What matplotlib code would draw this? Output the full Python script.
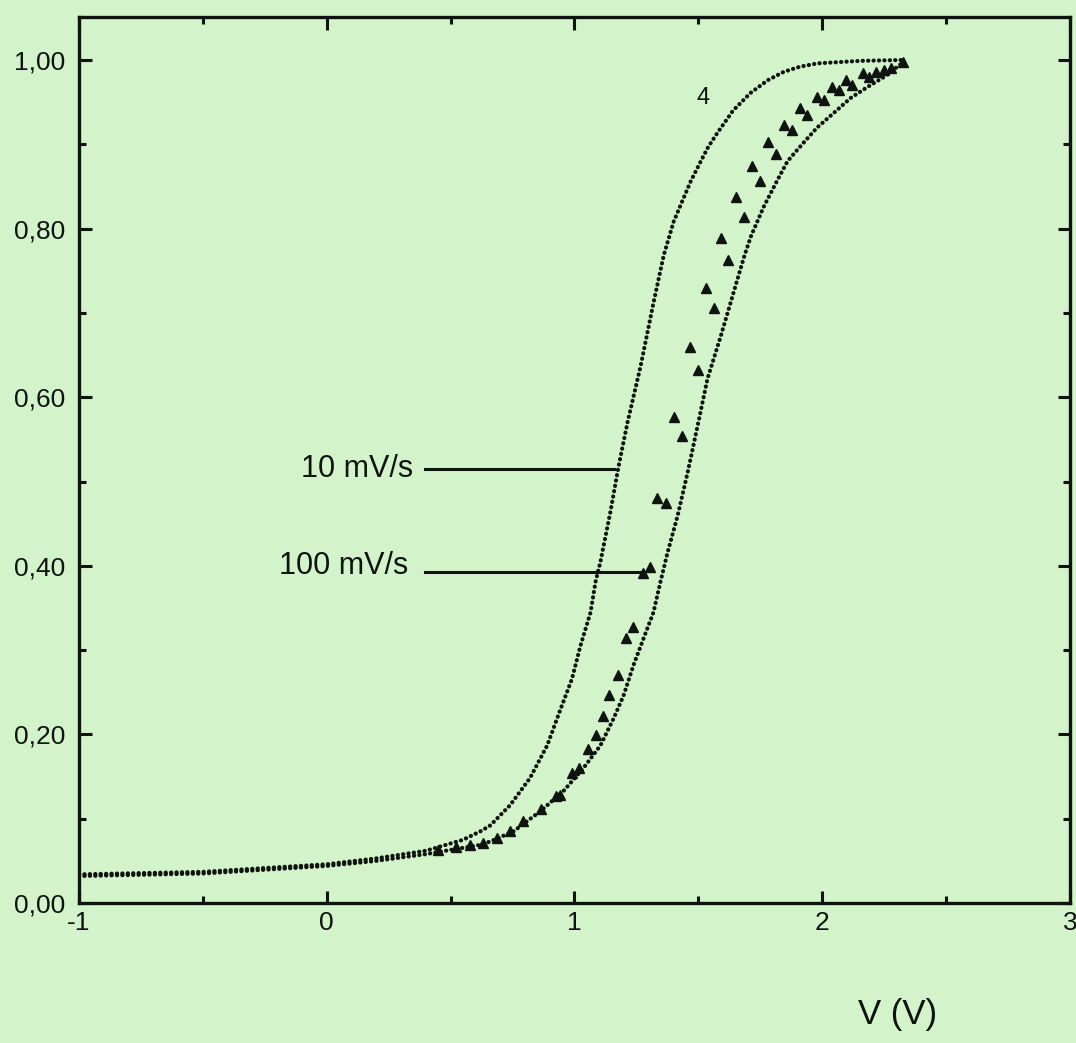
import matplotlib
matplotlib.use('Agg')
import matplotlib.pyplot as plt
from matplotlib.ticker import MultipleLocator

plt.rcParams['font.family'] = ['Liberation Sans', 'DejaVu Sans']

# 10 mV/s branch (left curve)
v_10 = [-1.0, -0.5, 0.0, 0.2, 0.4, 0.55, 0.62, 0.66, 0.74, 0.82, 0.89, 0.94, 0.99,
        1.024, 1.065, 1.085, 1.105, 1.145, 1.178, 1.214, 1.267, 1.319, 1.36, 1.40,
        1.44, 1.469, 1.51, 1.54, 1.578, 1.64, 1.711, 1.78, 1.845, 1.91, 1.98, 2.155, 2.33]
i_10 = [0.034, 0.037, 0.046, 0.053, 0.062, 0.075, 0.085, 0.092, 0.116, 0.148, 0.187,
        0.227, 0.266, 0.305, 0.345, 0.381, 0.405, 0.464, 0.518, 0.570, 0.637, 0.712,
        0.768, 0.808, 0.836, 0.856, 0.880, 0.897, 0.914, 0.940, 0.961, 0.976, 0.986,
        0.992, 0.996, 0.999, 1.0]

# right curve
v_r = [-1.0, -0.5, 0.0, 0.2, 0.4, 0.62, 0.66, 0.754, 0.863, 0.956, 1.036, 1.105, 1.158,
       1.198, 1.238, 1.279, 1.319, 1.347, 1.376, 1.416, 1.457, 1.497, 1.537, 1.59, 1.63,
       1.683, 1.711, 1.764, 1.82, 1.86, 1.925, 1.98, 2.046, 2.115, 2.183, 2.25, 2.33]
i_r = [0.032, 0.035, 0.044, 0.050, 0.058, 0.069, 0.073, 0.085, 0.109, 0.133, 0.160,
       0.187, 0.219, 0.246, 0.282, 0.314, 0.345, 0.381, 0.416, 0.459, 0.511, 0.566,
       0.622, 0.672, 0.712, 0.765, 0.790, 0.826, 0.858, 0.880, 0.902, 0.920, 0.937,
       0.955, 0.968, 0.980, 0.998]

# 100 mV/s triangles
v_100 = [0.45, 0.52, 0.58, 0.632, 0.689, 0.741, 0.794, 0.863, 0.925, 0.943, 0.988, 1.020,
         1.053, 1.085, 1.117, 1.141, 1.174, 1.206, 1.238, 1.275, 1.303, 1.335, 1.368,
         1.40, 1.432, 1.465, 1.497, 1.53, 1.562, 1.59, 1.618, 1.65, 1.683, 1.715, 1.747,
         1.78, 1.812, 1.845, 1.877, 1.909, 1.94, 1.978, 2.006, 2.04, 2.067, 2.095, 2.12,
         2.163, 2.188, 2.216, 2.25, 2.277, 2.325]
i_100 = [0.063, 0.066, 0.069, 0.071, 0.077, 0.086, 0.097, 0.112, 0.127, 0.128, 0.154,
         0.160, 0.183, 0.199, 0.222, 0.247, 0.270, 0.314, 0.328, 0.391, 0.399, 0.480,
         0.474, 0.576, 0.554, 0.660, 0.632, 0.73, 0.706, 0.789, 0.763, 0.837, 0.814,
         0.874, 0.856, 0.903, 0.888, 0.923, 0.917, 0.943, 0.935, 0.956, 0.953, 0.968,
         0.964, 0.976, 0.97, 0.985, 0.98, 0.986, 0.988, 0.99, 0.998]

y_ticks = [0.0, 0.2, 0.4, 0.6, 0.8, 1.0]
y_labels = ['0,00', '0,20', '0,40', '0,60', '0,80', '1,00']
x_ticks = [-1, 0, 1, 2, 3]
x_labels = ['-1', '0', '1', '2', '3']

bg = '#d3f3cb'
ink = '#101410'

fig = plt.figure(figsize=(10.76, 10.43), dpi=100, facecolor=bg)
ax = fig.add_axes([0.0734, 0.1342, 0.921, 0.8495], facecolor=bg)

# curves, drawn as dense dots
ax.plot(v_10, i_10, color=ink, lw=3.0, ls=(0, (0.05, 1.25)), dash_capstyle='round')
ax.plot(v_r, i_r, color=ink, lw=3.0, ls=(0, (0.05, 1.25)), dash_capstyle='round')
ax.plot(v_100, i_100, ls='none', marker='^', ms=6.5, color=ink)

# annotations
ax.plot([0.398, 1.158], [0.515, 0.515], color=ink, lw=2.2)
ax.plot([0.398, 1.28], [0.393, 0.393], color=ink, lw=2.2)
ax.text(0.35, 0.515, '10 mV/s', ha='right', va='center', fontsize=22, color=ink)
ax.text(0.33, 0.40, '100 mV/s', ha='right', va='center', fontsize=22, color=ink)
ax.text(1.52, 0.955, '4', ha='center', va='center', fontsize=17, color=ink)

ax.set_xlim(-1, 3)
ax.set_ylim(0, 1.051)

ax.set_xticks(x_ticks)
ax.set_xticklabels(x_labels)
ax.set_yticks(y_ticks)
ax.set_yticklabels(y_labels)
ax.xaxis.set_minor_locator(MultipleLocator(0.5))
ax.yaxis.set_minor_locator(MultipleLocator(0.1))

ax.tick_params(which='both', direction='in', top=True, right=True, width=2.2,
               colors=ink, labelsize=19)
ax.tick_params(which='major', length=9)
ax.tick_params(which='minor', length=5)
ax.tick_params(axis='x', which='major', pad=6)
ax.tick_params(axis='y', which='major', pad=10)

for s in ax.spines.values():
    s.set_linewidth(2.4)
    s.set_color(ink)

fig.text(0.834, 0.027, 'V (V)', ha='center', va='center', fontsize=25, color=ink)

fig.savefig('out.png', dpi=100, facecolor=bg)
